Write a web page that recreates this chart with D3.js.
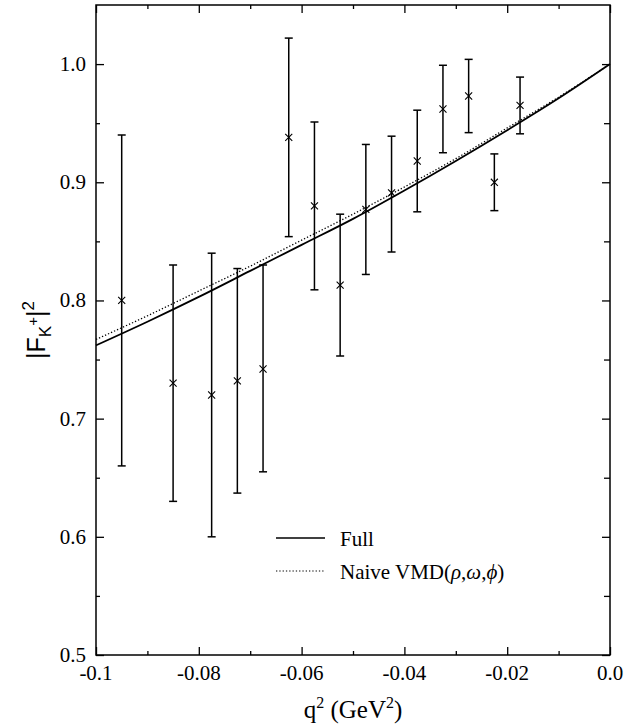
<!DOCTYPE html>
<html>
<head>
<meta charset="utf-8">
<script src="https://cdn.jsdelivr.net/npm/d3@7.9.0/dist/d3.min.js"></script>
<style>
  body { margin: 0; background: #fff; }
  text { font-family: "Liberation Serif", "Times New Roman", serif; fill: #000; }
</style>
</head>
<body>
<svg id="chart" width="641" height="727"></svg>
<script>
// measured points
const qData = [-0.095, -0.085, -0.0775, -0.0725, -0.0675, -0.0625, -0.0575, -0.0525, -0.0475, -0.0425, -0.0375, -0.0325, -0.0275, -0.0225, -0.0175];
const fData = [0.800, 0.730, 0.720, 0.732, 0.742, 0.938, 0.880, 0.813, 0.877, 0.891, 0.918, 0.962, 0.973, 0.900, 0.965];
const errLow = [0.660, 0.630, 0.600, 0.637, 0.655, 0.854, 0.809, 0.753, 0.822, 0.841, 0.875, 0.925, 0.942, 0.876, 0.941];
const errHigh = [0.940, 0.830, 0.840, 0.827, 0.830, 1.022, 0.951, 0.873, 0.932, 0.939, 0.961, 0.999, 1.004, 0.924, 0.989];

// model curves
const qCurve = [-0.10, -0.09, -0.08, -0.07, -0.06, -0.05, -0.04, -0.03, -0.02, -0.01, 0.0];
const fullCurve = [0.762, 0.782, 0.803, 0.825, 0.847, 0.869, 0.893, 0.918, 0.944, 0.971, 1.000];
const naiveCurve = [0.767, 0.787, 0.808, 0.829, 0.851, 0.873, 0.896, 0.920, 0.946, 0.972, 1.000];

const xTickVals = [-0.1, -0.08, -0.06, -0.04, -0.02, 0.0];
const xTickLabels = ['-0.1', '-0.08', '-0.06', '-0.04', '-0.02', '0.0'];
const yTickVals = [0.5, 0.6, 0.7, 0.8, 0.9, 1.0];
const yTickLabels = ['0.5', '0.6', '0.7', '0.8', '0.9', '1.0'];

const margin = { left: 96, top: 5, right: 31, bottom: 72 };
const W = 641 - margin.left - margin.right;
const H = 727 - margin.top - margin.bottom;

const svg = d3.select('#chart');
const g = svg.append('g').attr('transform', `translate(${margin.left},${margin.top})`);

const x = d3.scaleLinear().domain([-0.1, 0.0]).range([0, W]);
const y = d3.scaleLinear().domain([0.5, 1.05]).range([H, 0]);

// frame
g.append('rect')
  .attr('width', W).attr('height', H)
  .attr('fill', 'none').attr('stroke', '#000').attr('stroke-width', 1.5);

const xMinor = d3.range(-0.09, 0, 0.02);
const yMinor = d3.range(0.55, 1.05, 0.1);

function inwardAxis(axis, ticks, len) {
  return axis.tickValues(ticks).tickSize(-len).tickFormat('');
}

// bottom + top ticks
g.append('g').attr('transform', `translate(0,${H})`)
  .call(inwardAxis(d3.axisBottom(x), xTickVals, 8));
g.append('g').attr('transform', `translate(0,${H})`)
  .call(inwardAxis(d3.axisBottom(x), xMinor, 4));
g.append('g').call(inwardAxis(d3.axisTop(x), xTickVals, 8));
g.append('g').call(inwardAxis(d3.axisTop(x), xMinor, 4));
// left + right ticks
g.append('g').call(inwardAxis(d3.axisLeft(y), yTickVals, 8));
g.append('g').call(inwardAxis(d3.axisLeft(y), yMinor, 4));
g.append('g').attr('transform', `translate(${W},0)`)
  .call(inwardAxis(d3.axisRight(y), yTickVals, 8));
g.append('g').attr('transform', `translate(${W},0)`)
  .call(inwardAxis(d3.axisRight(y), yMinor, 6));

g.selectAll('.domain').remove();
g.selectAll('.tick line').attr('stroke', '#000').attr('stroke-width', 1.3);

// tick labels
g.selectAll('.xlab').data(xTickVals).enter().append('text')
  .attr('x', d => x(d)).attr('y', H + 25)
  .attr('text-anchor', 'middle').attr('font-size', 21)
  .text((d, i) => xTickLabels[i]);

g.selectAll('.ylab').data(yTickVals).enter().append('text')
  .attr('x', -10).attr('y', d => y(d) + 7)
  .attr('text-anchor', 'end').attr('font-size', 21)
  .text((d, i) => yTickLabels[i]);

// axis titles
const xt = svg.append('text')
  .attr('x', 353).attr('y', 718)
  .attr('text-anchor', 'middle').attr('font-size', 25);
xt.append('tspan').text('q');
xt.append('tspan').attr('dy', -10).attr('font-size', 16).text('2');
xt.append('tspan').attr('dy', 10).text(' (GeV');
xt.append('tspan').attr('dy', -10).attr('font-size', 16).text('2');
xt.append('tspan').attr('dy', 10).text(')');

const yt = svg.append('text')
  .attr('transform', 'translate(45,330) rotate(-90)')
  .attr('text-anchor', 'middle').attr('font-size', 25)
  .style('font-family', '"Liberation Sans", Arial, sans-serif');
yt.append('tspan').text('|F');
yt.append('tspan').attr('dy', 6).attr('font-size', 17).text('K');
yt.append('tspan').attr('dy', -13).attr('font-size', 15).text('+');
yt.append('tspan').attr('dy', 7).text('|');
yt.append('tspan').attr('dy', -11).attr('font-size', 17).text('2');

// curves
const line = d3.line()
  .x((d, i) => x(qCurve[i]))
  .y(d => y(d))
  .curve(d3.curveMonotoneX);

g.append('path').datum(naiveCurve)
  .attr('d', line).attr('fill', 'none')
  .attr('stroke', '#000').attr('stroke-width', 1.3)
  .attr('stroke-dasharray', '1.3,2');

g.append('path').datum(fullCurve)
  .attr('d', line).attr('fill', 'none')
  .attr('stroke', '#000').attr('stroke-width', 1.8);

// error bars
const pts = qData.map((q, i) => ({ q, f: fData[i], lo: errLow[i], hi: errHigh[i] }));
const eb = g.selectAll('.eb').data(pts).enter().append('g')
  .attr('stroke', '#000').attr('stroke-width', 1.5);
eb.append('line')
  .attr('x1', d => x(d.q)).attr('x2', d => x(d.q))
  .attr('y1', d => y(d.lo)).attr('y2', d => y(d.hi));
eb.append('line')
  .attr('x1', d => x(d.q) - 4).attr('x2', d => x(d.q) + 4)
  .attr('y1', d => y(d.lo)).attr('y2', d => y(d.lo));
eb.append('line')
  .attr('x1', d => x(d.q) - 4).attr('x2', d => x(d.q) + 4)
  .attr('y1', d => y(d.hi)).attr('y2', d => y(d.hi));
// x markers
const cross = d3.symbol().type(d3.symbolX).size(34);
eb.append('path')
  .attr('d', cross)
  .attr('transform', d => `translate(${x(d.q)},${y(d.f)})`)
  .attr('fill', 'none').attr('stroke-width', 1.1);

// legend
const leg = svg.append('g');
leg.append('line').attr('x1', 276).attr('x2', 325).attr('y1', 538).attr('y2', 538)
  .attr('stroke', '#000').attr('stroke-width', 1.6);
leg.append('text').attr('x', 340).attr('y', 546).attr('font-size', 21).text('Full');
leg.append('line').attr('x1', 276).attr('x2', 325).attr('y1', 571).attr('y2', 571)
  .attr('stroke', '#000').attr('stroke-width', 1.2).attr('stroke-dasharray', '1.3,2');
const lt = leg.append('text').attr('x', 340).attr('y', 579).attr('font-size', 21);
lt.append('tspan').text('Naive VMD(');
lt.append('tspan').attr('font-style', 'italic').text('ρ');
lt.append('tspan').text(',');
lt.append('tspan').attr('font-style', 'italic').text('ω');
lt.append('tspan').text(',');
lt.append('tspan').attr('font-style', 'italic').text('ϕ');
lt.append('tspan').text(')');
</script>
</body>
</html>
